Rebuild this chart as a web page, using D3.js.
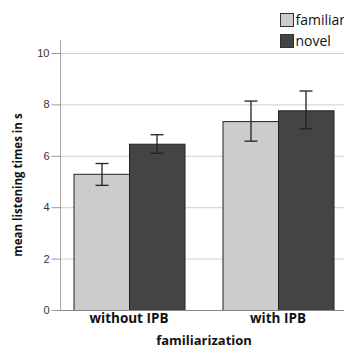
<!DOCTYPE html>
<html>
<head>
<meta charset="utf-8">
<script src="https://cdn.jsdelivr.net/npm/d3@7"></script>
<style>
  body { margin: 0; background: #fff; }
  svg { display: block; font-family: "Open Sans", sans-serif; }
</style>
</head>
<body>
<svg width="344" height="349"></svg>
<script>
// Data
const groups = ['without IPB', 'with IPB'];
const conditions = ['familiar', 'novel'];
const means = [
  [5.3, 6.47],
  [7.35, 7.77],
];
const errLow = [
  [4.85, 6.1],
  [6.57, 7.05],
];
const errHigh = [
  [5.7, 6.82],
  [8.13, 8.52],
];
const yTicks = [0, 2, 4, 6, 8, 10];
const colors = ['#cccccc', '#444444'];

const svg = d3.select('svg');
const width = +svg.attr('width');

const y = d3.scaleLinear().domain([0, 10]).range([310, 53]);
const x = d3.scaleBand().domain(groups).range([54.5, 352.5])
  .paddingInner(0.255).paddingOuter(0.1275);
const xSub = d3.scaleBand().domain(conditions).range([0, x.bandwidth()]);

const axisX = 60;

// gridlines
svg.append('g').selectAll('line')
  .data(yTicks.slice(1))
  .enter().append('line')
    .attr('x1', axisX).attr('x2', width)
    .attr('y1', d => y(d) + 0.5).attr('y2', d => y(d) + 0.5)
    .attr('stroke', '#d0d0d0');

// y axis
const yAxis = svg.append('g')
  .attr('transform', `translate(${axisX + 0.5},0)`)
  .call(d3.axisLeft(y).tickValues(yTicks).tickSize(9).tickPadding(2));
yAxis.select('.domain').attr('d', `M0,${y(10.5)}V${y(0)}`).attr('stroke', '#aaa');
yAxis.selectAll('.tick line').attr('stroke', '#999');
yAxis.selectAll('.tick text').attr('font-size', 11).attr('fill', '#333');

// bars
const bars = svg.append('g').selectAll('g')
  .data(groups)
  .enter().append('g')
    .attr('transform', d => `translate(${x(d)},0)`);

bars.selectAll('rect')
  .data((g, i) => conditions.map((c, j) => ({ c, j, v: means[i][j] })))
  .enter().append('rect')
    .attr('x', d => xSub(d.c) + 0.5)
    .attr('y', d => y(d.v) + 0.5)
    .attr('width', xSub.bandwidth())
    .attr('height', d => y(0) - y(d.v))
    .attr('fill', d => colors[d.j])
    .attr('stroke', '#222')
    .attr('stroke-width', 1);

// baseline
svg.append('line')
  .attr('x1', axisX).attr('x2', width)
  .attr('y1', y(0) + 0.5).attr('y2', y(0) + 0.5)
  .attr('stroke', '#888');

// error bars
const err = bars.selectAll('g.err')
  .data((g, i) => conditions.map((c, j) => ({ c, lo: errLow[i][j], hi: errHigh[i][j] })))
  .enter().append('g')
    .attr('class', 'err')
    .attr('stroke', '#222')
    .attr('stroke-width', 1.3);
const cx = d => Math.round(xSub(d.c) + xSub.bandwidth() / 2) + 0.5;
err.append('line')
  .attr('x1', cx).attr('x2', cx)
  .attr('y1', d => y(d.lo)).attr('y2', d => y(d.hi));
err.append('line')
  .attr('x1', d => cx(d) - 6.5).attr('x2', d => cx(d) + 6.5)
  .attr('y1', d => y(d.hi)).attr('y2', d => y(d.hi));
err.append('line')
  .attr('x1', d => cx(d) - 6.5).attr('x2', d => cx(d) + 6.5)
  .attr('y1', d => y(d.lo)).attr('y2', d => y(d.lo));

// x labels
svg.append('g').selectAll('text')
  .data(groups)
  .enter().append('text')
    .attr('x', d => x(d) + x.bandwidth() / 2)
    .attr('y', 323)
    .attr('text-anchor', 'middle')
    .attr('font-size', 13.5)
    .attr('font-weight', 'bold')
    .attr('fill', '#111')
    .text(d => d);

svg.append('text')
  .attr('x', 204).attr('y', 345)
  .attr('text-anchor', 'middle')
  .attr('font-size', 13)
  .attr('font-weight', 'bold')
  .attr('fill', '#111')
  .text('familiarization');

svg.append('text')
  .attr('transform', 'translate(22,185) rotate(-90)')
  .attr('text-anchor', 'middle')
  .attr('font-size', 11.5)
  .attr('font-weight', 'bold')
  .attr('fill', '#111')
  .text('mean listening times in s');

// legend
const legend = svg.append('g').selectAll('g')
  .data(conditions)
  .enter().append('g')
    .attr('transform', (d, i) => `translate(280.5,${13.5 + i * 21})`);
legend.append('rect')
  .attr('width', 13).attr('height', 13)
  .attr('fill', (d, i) => colors[i])
  .attr('stroke', '#333');
legend.append('text')
  .attr('x', 15).attr('y', 11.5)
  .attr('font-size', 14)
  .attr('fill', '#111')
  .text(d => d);
</script>
</body>
</html>
